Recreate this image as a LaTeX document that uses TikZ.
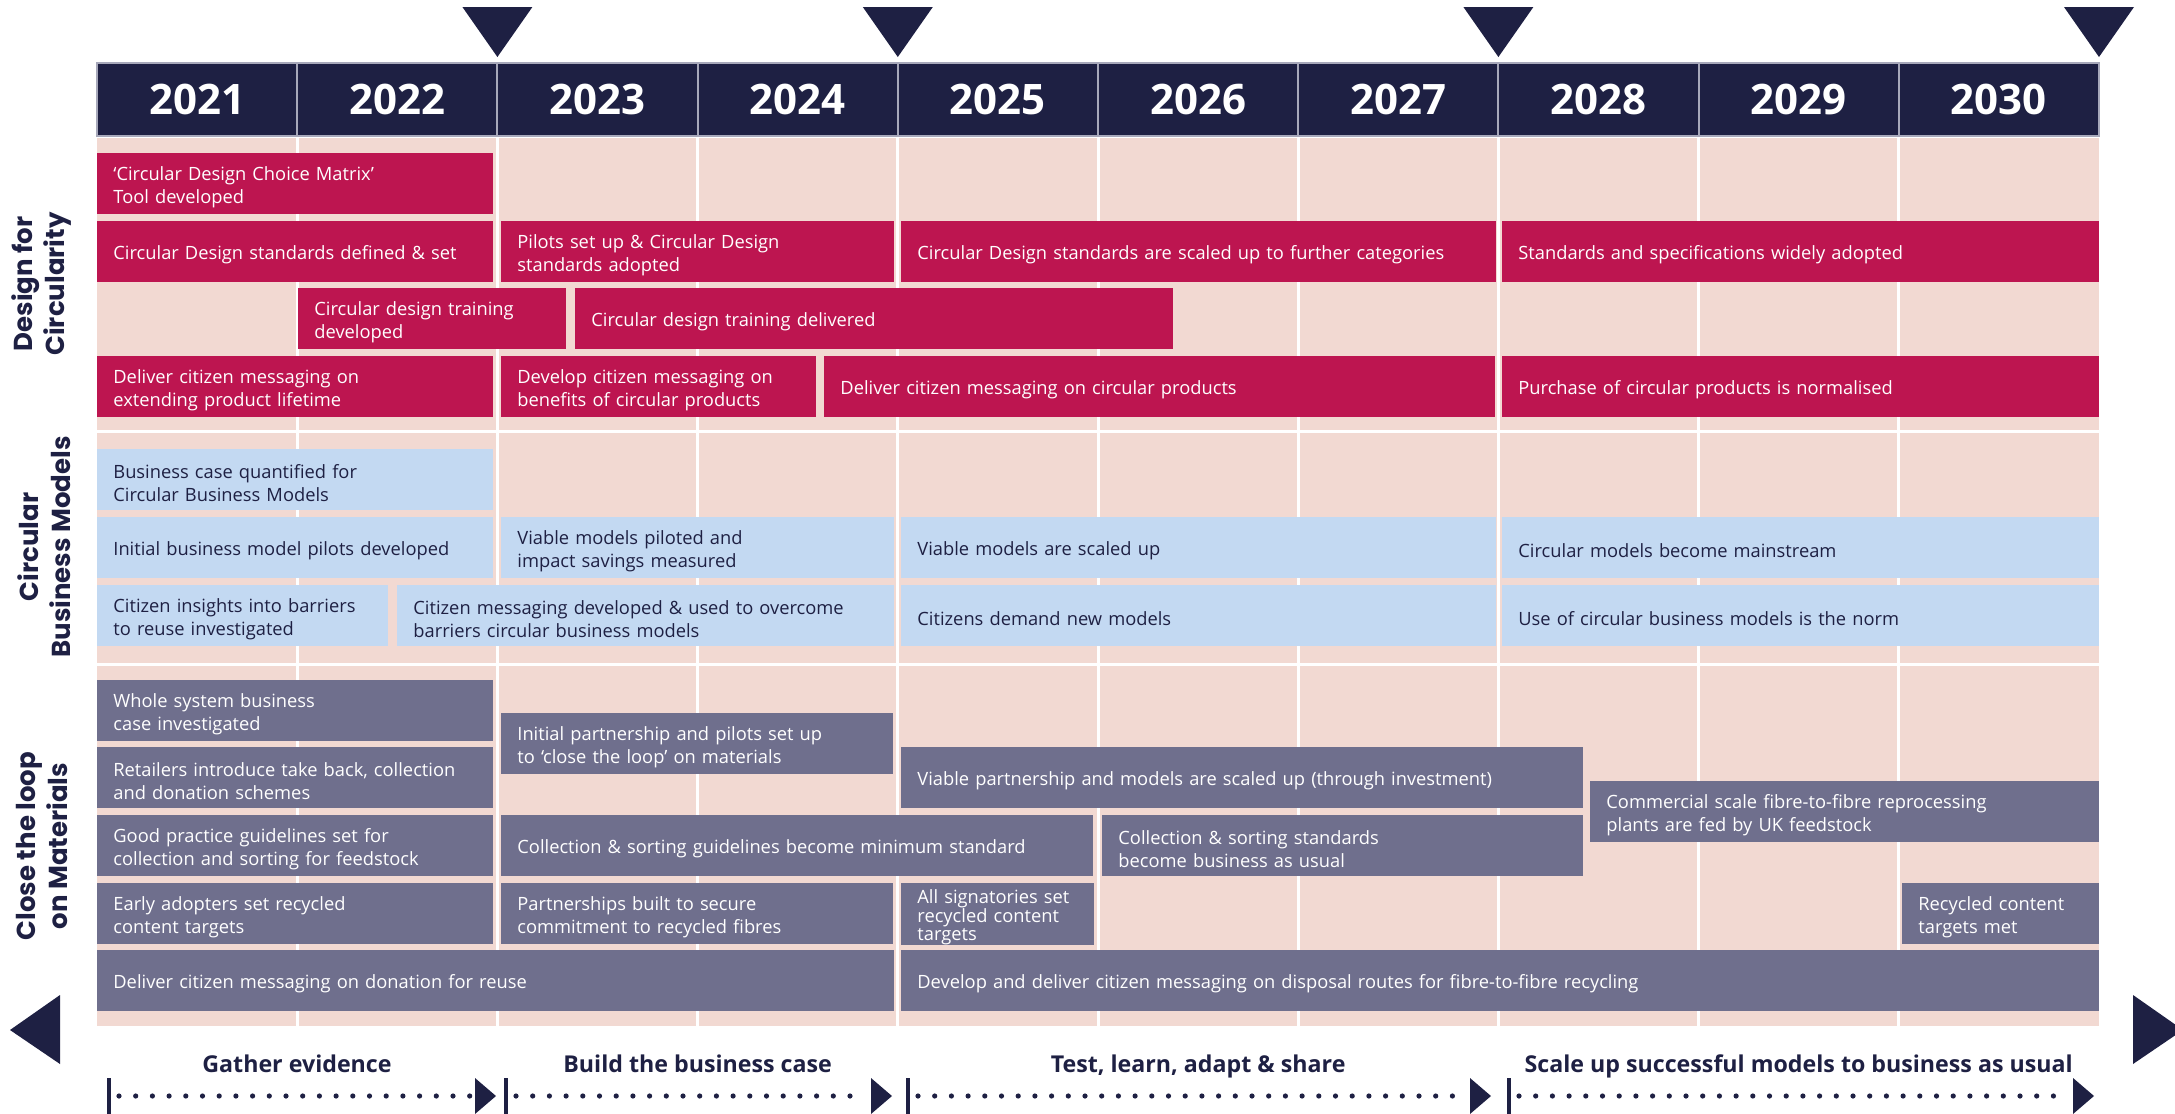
\documentclass[tikz,border=0pt]{standalone}
\usepackage{fontspec}
\setmainfont{Open Sans}
\newfontfamily\secfont{Poppins}
\usepackage{tikz}
\usetikzlibrary{positioning}
\definecolor{TimeNavy}{HTML}{1E2043}
\definecolor{DesignRed}{HTML}{BD1550}
\definecolor{ModelBlue}{HTML}{C3D9F2}
\definecolor{LoopSlate}{HTML}{6F6F8D}
\definecolor{GridPink}{HTML}{F2D9D2}
\definecolor{HeadEdge}{HTML}{A7A8BA}

\begin{document}
\begin{tikzpicture}[x=0.5pt,y=-0.5pt,
  yearcell/.style={fill=TimeNavy,draw=HeadEdge,line width=1pt,minimum width=100.1pt,minimum height=36.5pt,inner sep=0pt,text=white,font=\fontsize{21}{24}\selectfont\bfseries},
  tlbar/.style={anchor=north west,minimum height=30.5pt,inner xsep=8pt,inner ysep=0pt,align=left,font=\fontsize{9.15}{11.3}\selectfont,execute at begin node={\rule{0pt}{10pt}}},
  spanx/.style 2 args={minimum width={(#2-#1)*0.5pt},text width={(#2-#1)*0.5pt-16pt}},
  redbar/.style={tlbar,fill=DesignRed,text=white},
  bluebar/.style={tlbar,fill=ModelBlue,text=TimeNavy},
  slatebar/.style={tlbar,fill=LoopSlate,text=white},
  sectlabel/.style={rotate=90,align=center,text=TimeNavy,font=\secfont\fontsize{13}{16}\selectfont\bfseries},
  phaselabel/.style={anchor=base,text=TimeNavy,font=\fontsize{11.6}{14}\selectfont\bfseries},
  milestone/.style={fill=TimeNavy}]
\useasboundingbox (0,0) rectangle (2175,1114);
\clip (0,0) rectangle (2175,1114);
\foreach \yr [count=\i from 0] in {2021,...,2030}
\node[yearcell] (y\yr) at ({97+200.2*(\i+0.5)},99.5) {\yr};
\foreach \m in {497.4,897.8,1498.4,2099}
\fill[milestone] ({\m-35},7) -- ({\m+35},7) -- (\m,57) -- cycle;
\fill[GridPink] (97,138) rectangle (2099,1026);
\foreach \i in {1,...,9}
\draw[white,line width=1.5pt] ({97+200.2*\i},138) -- ({97+200.2*\i},1026);
\draw[white,line width=1.5pt] (97,431) -- (2099,431);
\draw[white,line width=1.5pt] (97,664) -- (2099,664);
\node[sectlabel] (design) at (42,284) {Design for\\Circularity};
\node[sectlabel] (models) at (44,547) {Circular\\Business Models};
\node[sectlabel] (loop) at (42,846) {Close the loop\\on Materials};
% design for circularity
\node[redbar,spanx={97}{493}] (matrix) at (97,153) {‘Circular Design Choice Matrix’\\Tool developed};
\node[redbar,spanx={97}{493}] (stddefined) at (97,221) {Circular Design standards defined \& set};
\node[redbar,spanx={501}{894}] (stdadopted) at (501,221) {Pilots set up \& Circular Design\\standards adopted};
\node[redbar,spanx={901}{1496}] (stdscaled) at (901,221) {Circular Design standards are scaled up to further categories};
\node[redbar,spanx={1502}{2099}] (stdwide) at (1502,221) {Standards and specifications widely adopted};
\node[redbar,spanx={298}{566}] (traindev) at (298,288) {Circular design training\\developed};
\node[redbar,spanx={575}{1173}] (traindel) at (575,288) {Circular design training delivered};
\node[redbar,spanx={97}{493}] (msglife) at (97,356) {Deliver citizen messaging on\\extending product lifetime};
\node[redbar,spanx={501}{816}] (msgbenefit) at (501,356) {Develop citizen messaging on\\benefits of circular products};
\node[redbar,spanx={824}{1495}] (msgcirc) at (824,356) {Deliver citizen messaging on circular products};
\node[redbar,spanx={1502}{2099}] (purchase) at (1502,356) {Purchase of circular products is normalised};
% circular business models
\node[bluebar,spanx={97}{493}] (bizcase) at (97,449) {Business case quantified for\\Circular Business Models};
\node[bluebar,spanx={97}{493}] (pilotsdev) at (97,517) {Initial business model pilots developed};
\node[bluebar,spanx={501}{894}] (piloted) at (501,517) {Viable models piloted and\\impact savings measured};
\node[bluebar,spanx={901}{1496}] (scaledup) at (901,517) {Viable models are scaled up};
\node[bluebar,spanx={1502}{2099}] (mainstream) at (1502,517) {Circular models become mainstream};
\node[bluebar,spanx={97}{388}] (insights) at (97,585) {Citizen insights into barriers\\to reuse investigated};
\node[bluebar,spanx={397}{894}] (overcome) at (397,585) {Citizen messaging developed \& used to overcome\\barriers circular business models};
\node[bluebar,spanx={901}{1496}] (demand) at (901,585) {Citizens demand new models};
\node[bluebar,spanx={1502}{2099}] (norm) at (1502,585) {Use of circular business models is the norm};
% close the loop
\node[slatebar,spanx={97}{493}] (wholesys) at (97,680) {Whole system business\\case investigated};
\node[slatebar,spanx={501}{893}] (partner) at (501,713) {Initial partnership and pilots set up\\to ‘close the loop’ on materials};
\node[slatebar,spanx={97}{493}] (takeback) at (97,747) {Retailers introduce take back, collection\\and donation schemes};
\node[slatebar,spanx={901}{1583}] (invest) at (901,747) {Viable partnership and models are scaled up (through investment)};
\node[slatebar,spanx={1590}{2099}] (plants) at (1590,781) {Commercial scale fibre-to-fibre reprocessing\\plants are fed by UK feedstock};
\node[slatebar,spanx={97}{493}] (goodpract) at (97,815) {Good practice guidelines set for\\collection and sorting for feedstock};
\node[slatebar,spanx={501}{1093}] (minstd) at (501,815) {Collection \& sorting guidelines become minimum standard};
\node[slatebar,spanx={1102}{1583}] (bau) at (1102,815) {Collection \& sorting standards\\become business as usual};
\node[slatebar,spanx={97}{493}] (early) at (97,883) {Early adopters set recycled\\content targets};
\node[slatebar,spanx={501}{893}] (secure) at (501,883) {Partnerships built to secure\\commitment to recycled fibres};
\node[slatebar,spanx={901}{1094},font=\fontsize{9.15}{9.3}\selectfont] (allsign) at (901,883) {All signatories set\\recycled content\\targets};
\node[slatebar,spanx={1902}{2099}] (targetsmet) at (1902,883) {Recycled content\\targets met};
\node[slatebar,spanx={97}{894}] (donation) at (97,950) {Deliver citizen messaging on donation for reuse};
\node[slatebar,spanx={901}{2099}] (disposal) at (901,950) {Develop and deliver citizen messaging on disposal routes for fibre-to-fibre recycling};
% phases
\node[phaselabel] (gather) at (297,1072) {Gather evidence};
\node[phaselabel] (build) at (697.6,1072) {Build the business case};
\node[phaselabel] (test) at (1198.1,1072) {Test, learn, adapt \& share};
\node[phaselabel] (scale) at (1798.7,1072) {Scale up successful models to business as usual};
\foreach \p/\s/\e in {gather/109/496,build/506/892,test/908/1491,scale/1509/2094}{
\coordinate (\p-start) at (\s,1096);
\coordinate (\p-end) at (\e,1096);
\draw[TimeNavy,line width=2pt] ([yshift=9pt]\p-start) -- ([yshift=-9pt]\p-start);
\draw[TimeNavy,line width=2.6pt,line cap=round,dash pattern=on 0pt off 8.35pt] ([xshift=5pt]\p-start) -- ([xshift=-13pt]\p-end);
\fill[TimeNavy] (\p-end) -- ++(-21,-18) -- ++(0,36) -- cycle;
}
\fill[milestone] (60,995) -- (10,1030) -- (60,1064) -- cycle;
\fill[milestone] (2133,995) -- (2183,1030) -- (2133,1064) -- cycle;
\end{tikzpicture}
\end{document}
